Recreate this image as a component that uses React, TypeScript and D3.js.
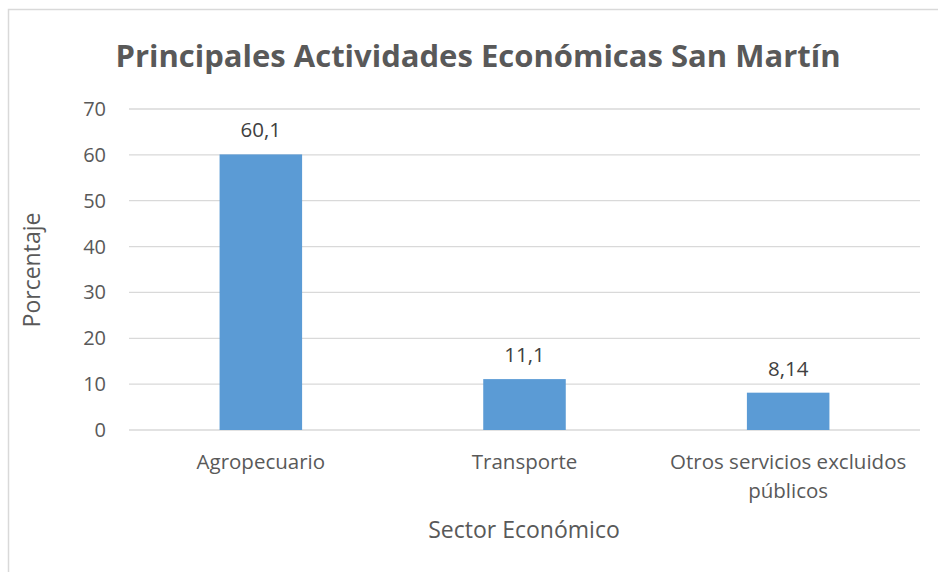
import React, { useRef, useEffect } from "react";
import * as d3 from "d3";

const categories = ["Agropecuario", "Transporte", "Otros servicios excluidos públicos"];
const values = [60.1, 11.1, 8.14];
const valueLabels = ["60,1", "11,1", "8,14"];
const yTicks = [0, 10, 20, 30, 40, 50, 60, 70];
const chartTitle = "Principales Actividades Económicas San Martín";
const xTitle = "Sector Económico";
const yTitle = "Porcentaje";

export default function App() {
  const ref = useRef<SVGSVGElement>(null);
  const width = 938;
  const height = 572;
  const margin = { top: 109, right: 18, bottom: 142, left: 129 };
  const font = "'Open Sans', sans-serif";
  const textColor = "#595959";

  useEffect(() => {
    const svg = d3.select(ref.current);
    svg.selectAll("*").remove();

    // chart area border
    svg.append("rect")
      .attr("x", 8.5).attr("y", 9.5)
      .attr("width", 940).attr("height", 580)
      .attr("fill", "white")
      .attr("stroke", "#d9d9d9").attr("stroke-width", 1.5);

    const x = d3.scaleBand<string>()
      .domain(categories)
      .range([margin.left, width - margin.right])
      .paddingInner(0.687).paddingOuter(0.3435);
    const y = d3.scaleLinear()
      .domain([0, 70])
      .range([height - margin.bottom, margin.top]);

    // gridlines + y tick labels
    const grid = svg.append("g");
    grid.selectAll("line")
      .data(yTicks)
      .join("line")
      .attr("x1", margin.left).attr("x2", width - margin.right)
      .attr("y1", d => y(d)).attr("y2", d => y(d))
      .attr("stroke", "#d9d9d9").attr("stroke-width", 1.3);
    grid.selectAll("text")
      .data(yTicks)
      .join("text")
      .attr("x", 106).attr("y", d => y(d))
      .attr("dy", "0.35em")
      .attr("text-anchor", "end")
      .attr("fill", textColor)
      .style("font-family", font).style("font-size", "20px")
      .text(d => d);

    // bars
    svg.append("g")
      .selectAll("rect")
      .data(values)
      .join("rect")
      .attr("x", (d, i) => x(categories[i])!)
      .attr("width", x.bandwidth())
      .attr("y", d => y(d))
      .attr("height", d => y(0) - y(d))
      .attr("fill", "#5b9bd5");

    // data labels
    svg.append("g")
      .selectAll("text")
      .data(values)
      .join("text")
      .attr("x", (d, i) => x(categories[i])! + x.bandwidth() / 2)
      .attr("y", d => y(d) - 17)
      .attr("text-anchor", "middle")
      .attr("fill", "#404040")
      .style("font-family", font).style("font-size", "20.5px")
      .text((d, i) => valueLabels[i]);

    // category labels (wrapped)
    const wrapped = [["Agropecuario"], ["Transporte"], ["Otros servicios excluidos", "públicos"]];
    const cat = svg.append("g")
      .selectAll("text")
      .data(categories)
      .join("text")
      .attr("x", d => x(d)! + x.bandwidth() / 2)
      .attr("y", 469)
      .attr("text-anchor", "middle")
      .attr("fill", textColor)
      .style("font-family", font).style("font-size", "20.5px");
    cat.each(function (d, i) {
      const t = d3.select(this);
      wrapped[i].forEach((line, j) => {
        t.append("tspan")
          .attr("x", x(d)! + x.bandwidth() / 2)
          .attr("dy", j === 0 ? 0 : 29)
          .text(line);
      });
    });

    // axis titles
    svg.append("text")
      .attr("x", 524).attr("y", 538)
      .attr("text-anchor", "middle")
      .attr("fill", textColor)
      .style("font-family", font).style("font-size", "23px")
      .text(xTitle);
    svg.append("text")
      .attr("transform", `translate(40,270) rotate(-90)`)
      .attr("text-anchor", "middle")
      .attr("fill", textColor)
      .style("font-family", font).style("font-size", "23px")
      .text(yTitle);

    // title
    svg.append("text")
      .attr("x", 478).attr("y", 67)
      .attr("text-anchor", "middle")
      .attr("fill", textColor)
      .style("font-family", font).style("font-size", "31px")
      .style("font-weight", "bold")
      .text(chartTitle);
  }, []);

  return (
    <svg
      ref={ref}
      width={width}
      height={height}
      style={{ position: "absolute", left: 0, top: 0, display: "block" }}
    />
  );
}
